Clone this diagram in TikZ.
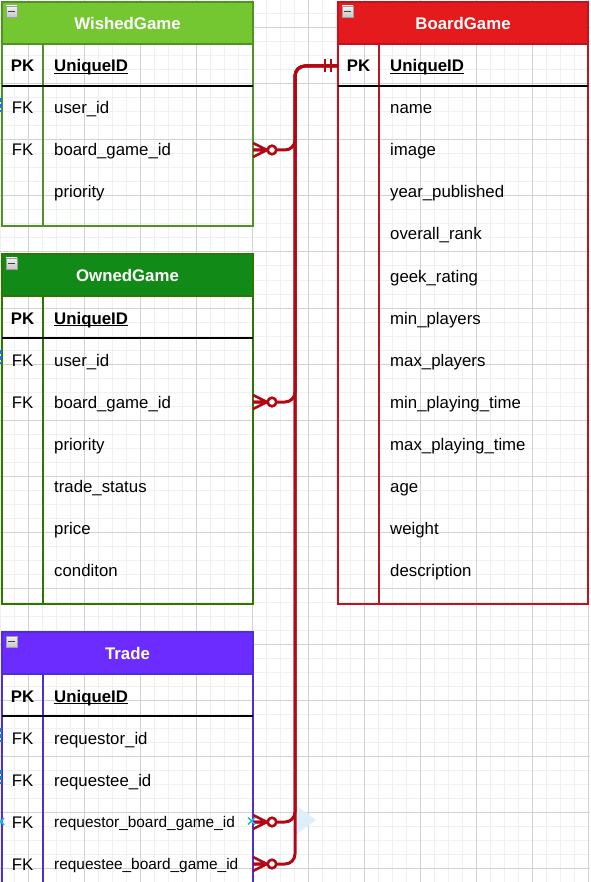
\documentclass[tikz,border=0pt]{standalone}
\usepackage{fontspec}
\setmainfont{Liberation Sans}
\definecolor{gminor}{RGB}{240,240,240}
\definecolor{gmajor}{RGB}{210,210,210}
\definecolor{wishfill}{RGB}{117,199,50}
\definecolor{wishline}{RGB}{80,145,40}
\definecolor{ownfill}{RGB}{17,138,24}
\definecolor{ownline}{RGB}{45,118,0}
\definecolor{bgfill}{RGB}{228,26,28}
\definecolor{bgline}{RGB}{190,20,30}
\definecolor{trfill}{RGB}{108,43,255}
\definecolor{trline}{RGB}{75,47,216}
\definecolor{relred}{RGB}{178,8,20}
\definecolor{hoverblue}{RGB}{222,239,252}
\definecolor{selblue}{RGB}{41,182,242}
\definecolor{edgeblue}{RGB}{30,120,200}
\newcommand\cellfont{\fontsize{16.8}{20}\selectfont}
\newcommand\smallcellfont{\fontsize{15.4}{18}\selectfont}
\begin{document}
\begin{tikzpicture}[x=1pt,y=-1pt,
  gridminorline/.style={draw=gminor,line width=1pt},
  gridmajorline/.style={draw=gmajor,line width=1pt},
  tabline/.style={line width=1.6pt},
  pkline/.style={draw=black,line width=1.8pt},
  pkend/.style={draw=black,line width=2.4pt},
  ttl/.style={anchor=base,inner sep=0,text=white,font=\cellfont\bfseries},
  kbold/.style={anchor=base,inner sep=0,font=\cellfont\bfseries},
  kreg/.style={anchor=base,inner sep=0,font=\cellfont},
  fbold/.style={anchor=base west,inner sep=0,font=\cellfont\bfseries},
  fld/.style={anchor=base west,inner sep=0,font=\cellfont},
  fldsmall/.style={anchor=base west,inner sep=0,font=\smallcellfont},
  minusicon/.style={rectangle,inner sep=0,minimum size=11pt,draw=gray!75,line width=0.8pt,
    top color=gray!10,bottom color=gray!45,
    path picture={\draw[black!75,line width=1.4pt]
      ([xshift=-3.2pt]path picture bounding box.center) -- ([xshift=3.2pt]path picture bounding box.center);}},
  rel/.style={draw=relred,line width=3pt,rounded corners=10pt},
  relmark/.style={draw=relred,line width=2.6pt},
  selx/.style={draw=selblue,line width=1.6pt},
  bluebit/.style={draw=edgeblue,line width=1.6pt}
]
\useasboundingbox (0,0) rectangle (590,882);
\clip (0,0) rectangle (590,882);
\fill[white] (0,0) rectangle (590,882);
% ---------- grid ----------
\foreach \i in {0,14,...,588} \draw[gridminorline] (\i,0) -- (\i,882);
\foreach \j in {0,14,...,882} \draw[gridminorline] (0,\j) -- (590,\j);
\foreach \i in {28,84,...,588} \draw[gridmajorline] (\i,0) -- (\i,882);
\foreach \j in {28,84,...,882} \draw[gridmajorline] (0,\j) -- (590,\j);

% ---------- WishedGame ----------
\fill[wishfill] (2,2) rectangle (253,44);
\draw[wishline,tabline] (2,2) rectangle (253,226);
\draw[wishline,tabline] (2,44) -- (253,44);
\draw[wishline,tabline] (43,44) -- (43,226);
\draw[pkline] (2,86) -- (253,86);
\draw[pkend] (241,86) -- (253,86);
\node[minusicon] (wg-icon) at (11.5,11.5) {};
\node[ttl] (wg-title) at (127.5,29.5) {WishedGame};
\node[kbold] (wg-pk) at (22.5,72) {PK};
\node[fbold] (wg-uid) at (54,72) {UniqueID};
\draw[line width=1.3pt] ([yshift=-1.6pt]wg-uid.base west) -- ([yshift=-1.6pt]wg-uid.base east);
\node[kreg] (wg-fk1) at (22.5,114) {FK};
\node[fld] (wg-f1) at (54,114) {user\_id};
\node[kreg] (wg-fk2) at (22.5,156) {FK};
\node[fld] (wg-f2) at (54,156) {board\_game\_id};
\node[fld] (wg-f3) at (54,198) {priority};
\coordinate (wg-out) at (253,150);

% ---------- OwnedGame ----------
\fill[ownfill] (2,254) rectangle (253,296);
\draw[ownline,tabline] (2,254) rectangle (253,604);
\draw[ownline,tabline] (2,296) -- (253,296);
\draw[ownline,tabline] (43,296) -- (43,604);
\draw[pkline] (2,338) -- (253,338);
\draw[pkend] (241,338) -- (253,338);
\node[minusicon] (og-icon) at (11.5,263.5) {};
\node[ttl] (og-title) at (127.5,281.5) {OwnedGame};
\node[kbold] (og-pk) at (22.5,324) {PK};
\node[fbold] (og-uid) at (54,324) {UniqueID};
\draw[line width=1.3pt] ([yshift=-1.6pt]og-uid.base west) -- ([yshift=-1.6pt]og-uid.base east);
\node[kreg] (og-fk1) at (22.5,366) {FK};
\node[fld] (og-f1) at (54,366) {user\_id};
\node[kreg] (og-fk2) at (22.5,408) {FK};
\node[fld] (og-f2) at (54,408) {board\_game\_id};
\node[fld] (og-f3) at (54,450) {priority};
\node[fld] (og-f4) at (54,492) {trade\_status};
\node[fld] (og-f5) at (54,534) {price};
\node[fld] (og-f6) at (54,576) {conditon};
\coordinate (og-out) at (253,402);

% ---------- Trade ----------
\fill[trfill] (2,632) rectangle (253,674);
\draw[trline,tabline] (2,632) rectangle (253,900);
\draw[trline,tabline] (2,674) -- (253,674);
\draw[trline,tabline] (43,674) -- (43,900);
\draw[pkline] (2,716) -- (253,716);
\draw[pkend] (241,716) -- (253,716);
\node[minusicon] (tr-icon) at (11.5,641.5) {};
\node[ttl] (tr-title) at (127.5,659.5) {Trade};
\node[kbold] (tr-pk) at (22.5,702) {PK};
\node[fbold] (tr-uid) at (54,702) {UniqueID};
\draw[line width=1.3pt] ([yshift=-1.6pt]tr-uid.base west) -- ([yshift=-1.6pt]tr-uid.base east);
\node[kreg] (tr-fk1) at (22.5,744) {FK};
\node[fld] (tr-f1) at (54,744) {requestor\_id};
\node[kreg] (tr-fk2) at (22.5,786) {FK};
\node[fld] (tr-f2) at (54,786) {requestee\_id};
\node[kreg] (tr-fk3) at (22.5,828) {FK};
\node[fldsmall] (tr-f3) at (54,827.5) {requestor\_board\_game\_id};
\node[kreg] (tr-fk4) at (22.5,870) {FK};
\node[fldsmall] (tr-f4) at (54,869.5) {requestee\_board\_game\_id};
\coordinate (tr-out1) at (253,822);
\coordinate (tr-out2) at (253,864);

% ---------- BoardGame ----------
\fill[bgfill] (338,2) rectangle (588,44);
\draw[bgline,tabline] (338,2) rectangle (588,604);
\draw[bgline,tabline] (338,44) -- (588,44);
\draw[bgline,tabline] (379,44) -- (379,604);
\draw[pkline] (338,86) -- (588,86);
\draw[pkend] (338,86) -- (350,86);
\draw[pkend] (577,86) -- (588,86);
\node[minusicon] (bg-icon) at (347.5,11.5) {};
\node[ttl] (bg-title) at (463,29.5) {BoardGame};
\node[kbold] (bg-pk) at (358.5,72) {PK};
\node[fbold] (bg-uid) at (390,72) {UniqueID};
\draw[line width=1.3pt] ([yshift=-1.6pt]bg-uid.base west) -- ([yshift=-1.6pt]bg-uid.base east);
\foreach \t [count=\k] in {name,image,year\_published,overall\_rank,geek\_rating,min\_players,max\_players,min\_playing\_time,max\_playing\_time,age,weight,description}
  \node[fld] (bg-f\k) at (390,{72+42*\k}) {\t};
\coordinate (bg-in) at (338,66);
\coordinate (trunk) at (295,0);

% ---------- hover arrow (editor overlay) ----------
\fill[hoverblue] (294,804) -- (316,820) -- (294,836) -- cycle;

% ---------- relationships ----------
\draw[rel] (wg-out) -- (wg-out -| trunk) -- (bg-in -| trunk) -- (bg-in);
\draw[rel] (og-out) -- (og-out -| trunk) -- (bg-in -| trunk) -- (bg-in);
\draw[rel] (tr-out1) -- (tr-out1 -| trunk) -- (bg-in -| trunk) -- (bg-in);
\draw[rel] (tr-out2) -- (tr-out2 -| trunk) -- (bg-in -| trunk) -- (bg-in);
% mandatory one at BoardGame
\draw[relmark,shift={(bg-in)}] (-13,-6.5) -- (-13,6.5) (-7,-6.5) -- (-7,6.5);
% zero-or-many marks
\foreach \p in {wg-out,og-out,tr-out1,tr-out2}{
  \draw[relmark,line join=round,shift={(\p)}] (0,-7) -- (14,0) -- (0,7) (0,0) -- (14,0);
  \draw[relmark,fill=white,shift={(\p)}] (19,0) circle[radius=4.3];
}

% ---------- editor selection marks ----------
\draw[selx] (248,817.5) -- (255,824.5) (248,824.5) -- (255,817.5);
\draw[selx] (-2,818) -- (4,825) (-2,825) -- (4,818);
\foreach \y in {108,360,738,780}
  \draw[bluebit] (0.8,\y-10) -- (0.8,\y-6) (0.8,\y-4) -- (0.8,\y) (0.8,\y+2) -- (0.8,\y+4);
\end{tikzpicture}
\end{document}
